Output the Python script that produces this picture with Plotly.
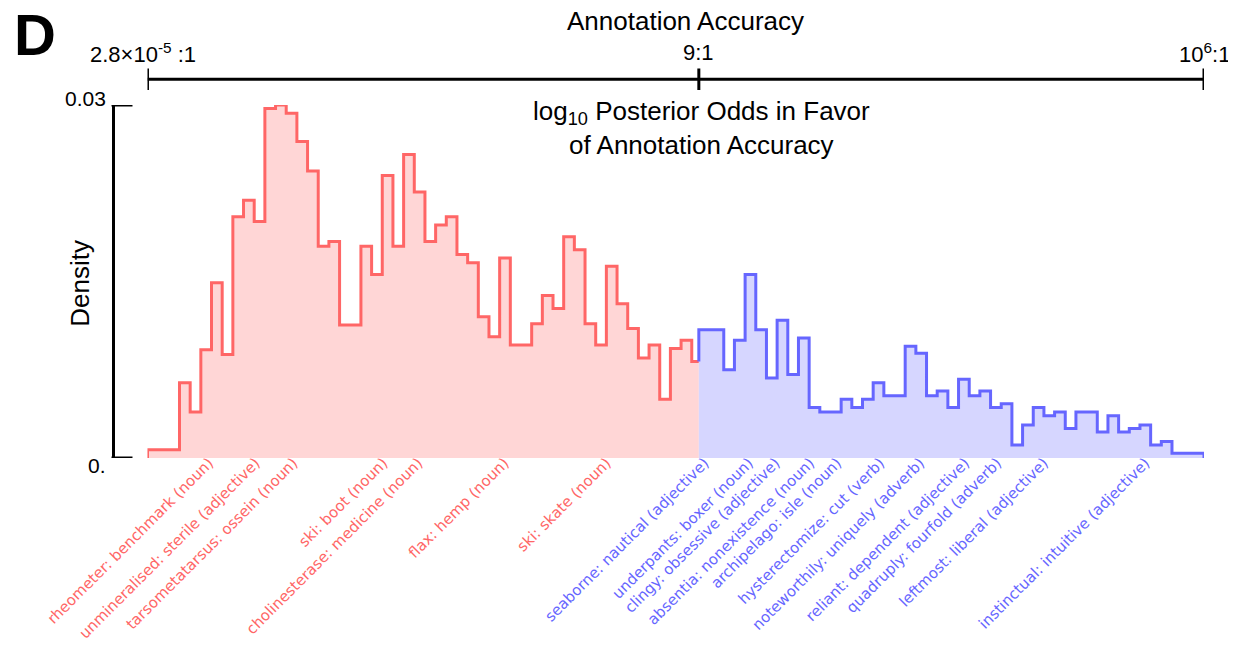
import numpy as np
import plotly.graph_objects as go

# ---------------- data ----------------
odds_ticks = [2.8e-5, 9, 1e6]
odds_tick_labels = ["2.8×10<sup>-5</sup> :1", "9:1", "10<sup>6</sup>:1"]
threshold_odds = 9
n_bins = 99

# density per bin (log10 posterior odds bins), below the 9:1 threshold (bins 0..51)
red_density = [0.0007, 0.0007, 0.0007, 0.0064, 0.0039, 0.0092, 0.0149, 0.0088, 0.0205, 0.0219,
               0.0201, 0.0297, 0.0300, 0.0293, 0.0269, 0.0244, 0.0180, 0.0184, 0.0113, 0.0113,
               0.0180, 0.0156, 0.0240, 0.0180, 0.0258, 0.0226, 0.0184, 0.0198, 0.0205, 0.0173,
               0.0166, 0.0120, 0.0103, 0.0170, 0.0096, 0.0096, 0.0114, 0.0138, 0.0127, 0.0188,
               0.0177, 0.0114, 0.0096, 0.0163, 0.0131, 0.0110, 0.0085, 0.0096, 0.0050, 0.0093,
               0.0100, 0.0082]
# density per bin above the threshold (bins 51..98)
blue_density = [0.0109, 0.0109, 0.0109, 0.0075, 0.0100, 0.0156, 0.0109, 0.0068, 0.0117, 0.0071,
                0.0102, 0.0043, 0.0039, 0.0039, 0.0050, 0.0043, 0.0050, 0.0064, 0.0053, 0.0053,
                0.0095, 0.0089, 0.0053, 0.0057, 0.0043, 0.0067, 0.0053, 0.0057, 0.0043, 0.0046,
                0.0011, 0.0028, 0.0043, 0.0036, 0.0039, 0.0025, 0.0039, 0.0039, 0.0022, 0.0036,
                0.0022, 0.0025, 0.0028, 0.0011, 0.0014, 0.0004, 0.0004, 0.0004]

words = ["rheometer: benchmark (noun)", "unmineralised: sterile (adjective)",
         "tarsometatarsus: ossein (noun)", "ski: boot (noun)", "cholinesterase: medicine (noun)",
         "flax: hemp (noun)", "ski: skate (noun)", "seaborne: nautical (adjective)",
         "underpants: boxer (noun)", "clingy: obsessive (adjective)",
         "absentia: nonexistence (noun)", "archipelago: isle (noun)",
         "hysterectomize: cut (verb)", "noteworthily: uniquely (adverb)",
         "reliant: dependent (adjective)", "quadruply: fourfold (adverb)",
         "leftmost: liberal (adjective)", "instinctual: intuitive (adjective)"]
word_log_odds = [-3.937, -3.472, -3.095, -2.197, -1.847, -0.986, 0.033, 1.011, 1.454, 1.720,
                 2.066, 2.336, 2.765, 3.165, 3.614, 3.933, 4.400, 5.414]

density_ticks = [0, 0.03]
density_tick_labels = ["0.", "0.03"]

# ---------------- styling ----------------
RED, RED_FILL = "#FF6666", "#FFD6D6"
BLUE, BLUE_FILL = "#6666FF", "#D6D6FF"
SANS = "Liberation Sans, Arial, sans-serif"

OFF = 8  # page offset of the figure div (default body margin)
W, H = 1236, 646
# plot area in page pixels: x 112.5..1204, y 105..457.7
L = 112.5 - OFF
T = 105 - OFF
R = W - (1204 - OFF)
B = H - (457.7 - OFF)
plot_h = H - T - B
plot_w = W - L - R


def py(p):  # page pixel row -> paper y
    return (H - B - (p - OFF)) / plot_h


def px(p):  # page pixel column -> paper x
    return ((p - OFF) - L) / plot_w


log_ticks = [float(np.log10(v)) for v in odds_ticks]
xmin, xmax = log_ticks[0], log_ticks[-1]
edges = np.linspace(xmin, xmax, n_bins + 1)
t = float(np.log10(threshold_odds))

nr = len(red_density)
rx = [edges[0]] + list(edges[:nr]) + [t]
ry = [0] + red_density + [red_density[-1]]

bx = [t, t] + list(edges[nr:n_bins]) + [edges[n_bins], edges[n_bins]]
by = [red_density[-1], blue_density[0]] + blue_density[1:] + [blue_density[-1], 0]

fig = go.Figure()
fig.add_trace(go.Scatter(x=rx, y=ry, mode="lines", line=dict(color=RED, width=3, shape="hv"),
                         fill="tozeroy", fillcolor=RED_FILL, cliponaxis=False, hoverinfo="skip"))
fig.add_trace(go.Scatter(x=bx, y=by, mode="lines", line=dict(color=BLUE, width=3, shape="hv"),
                         fill="tozeroy", fillcolor=BLUE_FILL, cliponaxis=False, hoverinfo="skip"))

ticktext = [f'<span style="color:{RED if v < t else BLUE}">{w}</span>'
            for w, v in zip(words, word_log_odds)]

# top (odds) axis
shapes = [dict(type="line", xref="x", yref="paper", x0=xmin, x1=xmax, y0=py(79.3), y1=py(79.3),
               line=dict(color="black", width=3))]
for v in log_ticks:
    shapes.append(dict(type="line", xref="x", yref="paper", x0=v, x1=v, y0=py(68.5), y1=py(90),
                       line=dict(color="black", width=3)))
# bracket ends of the density axis
for v in density_ticks:
    shapes.append(dict(type="line", xref="paper", yref="y", x0=px(111), x1=px(132), y0=v, y1=v,
                       line=dict(color="black", width=3)))

annotations = []
for v, lab in zip(log_ticks, odds_tick_labels):
    annotations.append(dict(x=v, y=py(53), xref="x", yref="paper", text=lab, showarrow=False,
                            xanchor="center", yanchor="middle", xshift=-4 if v < 0 else 0,
                            font=dict(family=SANS, size=22, color="black")))
for v, lab in zip(density_ticks, density_tick_labels):
    annotations.append(dict(x=px(107.5), y=v, xref="paper", yref="y", text=lab, showarrow=False,
                            xanchor="right", yanchor="middle", yshift=7 if v > 0 else -7,
                            font=dict(family=SANS, size=21, color="black")))
annotations += [
    dict(x=px(685), y=py(21), xref="paper", yref="paper", text="Annotation Accuracy",
         showarrow=False, xanchor="center", yanchor="middle",
         font=dict(family=SANS, size=26, color="black")),
    dict(x=px(11), y=py(35), xref="paper", yref="paper", text="<b>D</b>",
         showarrow=False, xanchor="left", yanchor="middle",
         font=dict(family=SANS, size=58, color="black")),
    dict(x=px(80), y=py(283), xref="paper", yref="paper", text="Density", textangle=-90,
         showarrow=False, xanchor="center", yanchor="middle",
         font=dict(family=SANS, size=26, color="black")),
    dict(x=px(701), y=py(128), xref="paper", yref="paper",
         text="log<sub>10</sub> Posterior Odds in Favor<br>of Annotation Accuracy",
         showarrow=False, xanchor="center", yanchor="middle",
         font=dict(family=SANS, size=26, color="black")),
]

fig.update_layout(
    width=W, height=H, margin=dict(l=L, r=R, t=T, b=B, pad=0, autoexpand=False),
    paper_bgcolor="white", plot_bgcolor="white", showlegend=False,
    xaxis=dict(domain=[px(147), 1], range=[xmin, xmax], showgrid=False, zeroline=False,
               showline=False, ticks="", tickvals=word_log_odds, ticktext=ticktext,
               tickangle=-45, anchor="free", position=0.022, automargin=False,
               tickfont=dict(family="DejaVu Sans", size=15, color=RED)),
    yaxis=dict(range=[0, 0.03], anchor="free", position=0, showgrid=False, zeroline=False,
               showline=True, linewidth=3, linecolor="black", ticks="",
               showticklabels=False, automargin=False),
    shapes=shapes, annotations=annotations,
)

fig.write_html("out.html")
